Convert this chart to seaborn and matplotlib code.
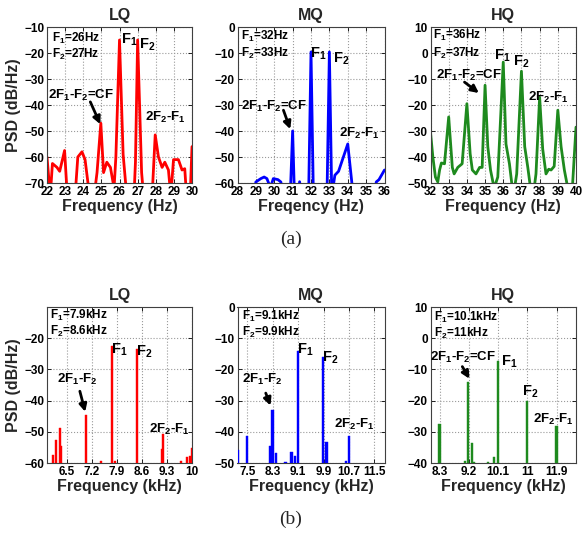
import matplotlib
matplotlib.use("Agg")
import matplotlib.pyplot as plt
import seaborn as sns
import pandas as pd

# ---------------- data ----------------
titles = ["LQ", "MQ", "HQ"]

# (a) continuous PSD curves  (Hz, dB/Hz)
lq_a_freq = [22.0, 22.18, 22.3, 22.55, 22.7, 22.97, 23.12, 23.55, 23.7, 23.93, 24.1, 24.35,
             24.6, 24.76, 24.97, 25.12, 25.3, 25.5, 25.7, 25.8, 26.0, 26.2, 26.4, 26.8,
             26.88, 27.0, 27.22, 27.33, 27.8, 27.97, 28.15, 28.35, 28.5, 28.7, 28.83, 28.98,
             29.25, 29.45, 29.6, 29.7, 29.9, 30.0]
lq_a_psd = [-60, -75, -62.5, -64, -65.5, -57.5, -75, -75, -60, -58, -61, -75,
            -75, -66, -47, -66, -62, -64, -72, -60, -15, -59, -75, -75,
            -62, -15, -66, -75, -75, -51.5, -60, -64, -62, -65, -75, -61,
            -61, -65, -64.5, -75, -75, -56]

mq_a_freq = [28.0, 28.9, 29.0, 29.27, 29.45, 29.6, 29.72, 29.85, 29.95, 30.2, 30.36, 30.5,
             30.87, 31.0, 31.1, 31.3, 31.38, 31.46, 31.87, 32.0, 32.13, 32.87, 33.0, 33.13,
             33.3, 33.5, 34.0, 34.15, 34.3, 35.5, 35.55, 35.7, 36.0]
mq_a_psd = [-65, -65, -59.6, -58.3, -57.7, -58.3, -60.5, -60.5, -58.3, -58.7, -59.6, -65,
            -65, -40, -65, -65, -59.5, -65, -65, -9.6, -65, -65, -9.6, -65,
            -57, -55.5, -45, -55, -65, -65, -59.6, -58.7, -55]

hq_a_freq = [32.0, 32.13, 32.27, 32.4, 32.5, 32.6, 32.77, 33.0, 33.2, 33.3, 33.5, 33.74,
             34.0, 34.18, 34.3, 34.5, 34.7, 34.84, 35.0, 35.15, 35.3, 35.5, 35.7, 36.0,
             36.15, 36.34, 36.5, 36.62, 36.74, 37.0, 37.18, 37.35, 37.5, 37.7, 37.8, 38.0,
             38.17, 38.35, 38.5, 38.63, 38.8, 39.0, 39.18, 39.36, 39.55, 39.8, 40.0]
hq_a_psd = [-30.5, -40, -47.7, -49.6, -45, -42.3, -42.6, -24.6, -44, -46.5, -44, -42.6,
            -19.5, -38.7, -45, -46.5, -44, -44, -12.4, -36, -45, -52, -47.7, -3.5,
            -35, -42.6, -52, -52, -46.5, -7, -36, -44, -52, -52, -46.5, -17,
            -37, -46.5, -44.7, -45, -43.6, -22, -36, -45, -52, -52, -28.5]

# (b) discrete spectra (kHz, dB/Hz)
lq_b_freq = [6.11, 6.20, 6.31, 6.34, 7.03, 7.44, 7.75, 7.84, 8.47, 9.16, 9.19, 9.68, 9.87, 9.94, 10.0]
lq_b_psd = [-57.3, -52.6, -48.9, -54.6, -44.5, -59.3, -22.6, -59.3, -23.5, -55.4, -50.6, -59.3, -58.2, -57.9, -55.2]

mq_b_freq = [7.21, 7.49, 8.21, 8.29, 8.40, 8.70, 8.89, 9.00, 9.10, 9.89, 9.99, 10.60, 10.70]
mq_b_psd = [-45.7, -41.3, -44.5, -33.1, -46.8, -49.8, -46.6, -47.6, -14.2, -16.0, -43.2, -49.5, -41.2]

hq_b_freq = [8.30, 9.08, 9.18, 9.29, 9.37, 9.79, 9.98, 10.10, 10.99, 11.90]
hq_b_psd = [-27.5, -39.3, -13.9, -33.6, -39.7, -39.8, -38.2, -7.2, -20.1, -28.3]

# axis ticks
a_xticks = [list(range(22, 31)), list(range(28, 37)), list(range(32, 41))]
a_yticks = [list(range(-70, -9, 10)), list(range(-60, 1, 10)), list(range(-50, 11, 10))]
b_xticks = [[6.5, 7.2, 7.9, 8.6, 9.3, 10], [7.5, 8.3, 9.1, 9.9, 10.7, 11.5], [8.3, 9.2, 10.1, 11, 11.9]]
b_xticklabels = [["6.5", "7.2", "7.9", "8.6", "9.3", "10"],
                 ["7.5", "8.3", "9.1", "9.9", "10.7", "11.5"],
                 ["8.3", "9.2", "10.1", "11", "11.9"]]
b_yticks = [list(range(-60, -19, 10)), list(range(-50, 1, 10)), list(range(-40, 11, 10))]
a_xlabels = ["Frequency (Hz)", "Freqency (Hz)", "Frequency (Hz)"]
b_xlabel = "Frequency (kHz)"
colors = ["#ff0000", "#0000ff", "#1e8a1e"]

# ---------------- styling ----------------
sns.set_theme(style="whitegrid")
plt.rcParams["font.family"] = ["Liberation Sans", "DejaVu Sans"]
plt.rcParams.update({
    "font.weight": "bold",
    "axes.labelweight": "bold",
    "axes.titleweight": "bold",
    "mathtext.fontset": "custom",
    "mathtext.rm": "Liberation Sans:bold",
    "mathtext.bf": "Liberation Sans:bold",
    "mathtext.it": "Liberation Sans:bold",
    "grid.linestyle": ":",
    "grid.color": "#9a9a9a",
    "grid.linewidth": 0.8,
    "axes.edgecolor": "#303030",
    "axes.linewidth": 0.8,
})

fig = plt.figure(figsize=(5.82, 5.36), dpi=100)
W, H = 582.0, 536.0
lefts = [47, 237.5, 430.5]
widths = [145, 147, 145.5]
top_rows = [(27, 183), (307, 463)]


def make_ax(i, row):
    t, b = top_rows[row]
    return fig.add_axes([lefts[i] / W, 1 - b / H, widths[i] / W, (b - t) / H])


def style(ax, title):
    ax.set_title(title, fontsize=11.5, fontweight="bold", pad=5)
    ax.tick_params(direction="in", length=3, width=0.6, top=True, right=True,
                   bottom=True, left=True, labelsize=8.5, pad=2, colors="black")
    for lab in ax.get_xticklabels() + ax.get_yticklabels():
        lab.set_fontweight("bold")
    for s in ax.spines.values():
        s.set_color("#404040")
    ax.grid(True)


def put(ax, x, y, s, size):
    ax.text(x, y, s, fontsize=size, fontweight="bold", ha="left", va="center", color="black")


def arrow(ax, tail, head):
    ax.annotate("", xy=head, xytext=tail,
                arrowprops=dict(arrowstyle="-|>", lw=2.0, color="black", mutation_scale=11,
                                shrinkA=0, shrinkB=0))


sub = lambda n: r"$_{\mathbf{%s}}$" % n

# ---------------- (a) row ----------------
a_freqs = [lq_a_freq, mq_a_freq, hq_a_freq]
a_psds = [lq_a_psd, mq_a_psd, hq_a_psd]
a_axes = []
for i in range(3):
    ax = make_ax(i, 0)
    df = pd.DataFrame({"f": a_freqs[i], "p": a_psds[i]})
    sns.lineplot(data=df, x="f", y="p", ax=ax, color=colors[i], lw=2.0, sort=True)
    ax.set_xlim(a_xticks[i][0], a_xticks[i][-1])
    ax.set_ylim(a_yticks[i][0], a_yticks[i][-1])
    ax.set_xticks(a_xticks[i])
    ax.set_yticks(a_yticks[i])
    ax.set_xlabel(a_xlabels[i], fontsize=11.5, fontweight="bold", labelpad=1)
    ax.set_ylabel("PSD (dB/Hz)" if i == 0 else "", fontsize=11.5, fontweight="bold", labelpad=2)
    style(ax, titles[i])
    a_axes.append(ax)

ax = a_axes[0]
put(ax, 22.28, -14.5, "F" + sub(1) + "=26Hz", 8.5)
put(ax, 22.28, -20.6, "F" + sub(2) + "=27Hz", 8.5)
put(ax, 26.08, -15.1, "F" + sub(1), 10.5)
put(ax, 27.1, -17.0, "F" + sub(2), 10.5)
put(ax, 22.04, -36.5, "2F" + sub(1) + "-F" + sub(2) + "=CF", 9.5)
arrow(ax, (24.39, -38.8), (24.94, -47.4))
put(ax, 27.42, -44.6, "2F" + sub(2) + "-F" + sub(1), 9.5)

ax = a_axes[1]
put(ax, 28.18, -3.8, "F" + sub(1) + "=32Hz", 8.5)
put(ax, 28.18, -10.3, "F" + sub(2) + "=33Hz", 8.5)
put(ax, 31.95, -10.3, "F" + sub(1), 10.5)
put(ax, 33.18, -12.2, "F" + sub(2), 10.5)
put(ax, 28.18, -30.5, "2F" + sub(1) + "-F" + sub(2) + "=CF", 9.5)
arrow(ax, (30.5, -32.0), (30.87, -39.3))
put(ax, 33.55, -41.0, "2F" + sub(2) + "-F" + sub(1), 9.5)

ax = a_axes[2]
put(ax, 32.13, 6.8, "F" + sub(1) + "=36Hz", 8.5)
put(ax, 32.13, 0.0, "F" + sub(2) + "=37Hz", 8.5)
put(ax, 35.5, -0.9, "F" + sub(1), 10.5)
put(ax, 36.56, -3.5, "F" + sub(2), 10.5)
put(ax, 32.31, -8.6, "2F" + sub(1) + "-F" + sub(2) + "=CF", 9.5)
arrow(ax, (33.87, -11.2), (34.66, -15.4))
put(ax, 37.35, -17.0, "2F" + sub(2) + "-F" + sub(1), 9.5)

# ---------------- (b) row ----------------
b_freqs = [lq_b_freq, mq_b_freq, hq_b_freq]
b_psds = [lq_b_psd, mq_b_psd, hq_b_psd]
b_xlims = [(5.94, 10.0), (7.19, 11.82), (8.02, 12.5)]
b_ylims = [(-60, -10), (-50, 0), (-40, 10)]
bar_w = [0.06, 0.07, 0.07]
b_axes = []
for i in range(3):
    ax = make_ax(i, 1)
    base = b_ylims[i][0]
    heights = [p - base for p in b_psds[i]]
    ax.bar(b_freqs[i], heights, bottom=base, width=bar_w[i], color=colors[i],
           edgecolor=colors[i], linewidth=0.3, zorder=3)
    ax.set_xlim(*b_xlims[i])
    ax.set_ylim(*b_ylims[i])
    ax.set_xticks(b_xticks[i])
    ax.set_xticklabels(b_xticklabels[i])
    ax.set_yticks(b_yticks[i])
    ax.set_xlabel(b_xlabel, fontsize=11.5, fontweight="bold", labelpad=1)
    ax.set_ylabel("PSD (dB/Hz)" if i == 0 else "", fontsize=11.5, fontweight="bold", labelpad=2)
    style(ax, titles[i])
    b_axes.append(ax)

ax = b_axes[0]
put(ax, 6.03, -12.6, "F" + sub(1) + "=7.9kHz", 8.5)
put(ax, 6.03, -17.9, "F" + sub(2) + "=8.6kHz", 8.5)
put(ax, 7.73, -23.6, "F" + sub(1), 10.5)
put(ax, 8.42, -24.2, "F" + sub(2), 10.5)
put(ax, 6.22, -33.3, "2F" + sub(1) + "-F" + sub(2), 9.5)
arrow(ax, (6.86, -37.0), (7.01, -43.6))
put(ax, 8.79, -49.3, "2F" + sub(2) + "-F" + sub(1), 9.5)

ax = b_axes[1]
put(ax, 7.32, -3.0, "F" + sub(1) + "=9.1kHz", 8.5)
put(ax, 7.32, -8.3, "F" + sub(2) + "=9.9kHz", 8.5)
put(ax, 9.05, -13.7, "F" + sub(1), 10.5)
put(ax, 9.84, -16.3, "F" + sub(2), 10.5)
put(ax, 7.32, -23.3, "2F" + sub(1) + "-F" + sub(2), 9.5)
arrow(ax, (8.08, -27.6), (8.23, -31.6))
put(ax, 10.23, -37.7, "2F" + sub(2) + "-F" + sub(1), 9.5)

ax = b_axes[2]
put(ax, 8.12, 6.8, "F" + sub(1) + "=10.1kHz", 8.5)
put(ax, 8.12, 1.5, "F" + sub(2) + "=11kHz", 8.5)
put(ax, 7.99, -6.2, "2F" + sub(1) + "-F" + sub(2) + "=CF", 9.5)
put(ax, 10.18, -7.6, "F" + sub(1), 10.5)
arrow(ax, (9.0, -9.1), (9.22, -13.0))
put(ax, 10.83, -17.1, "F" + sub(2), 10.5)
put(ax, 11.18, -26.2, "2F" + sub(2) + "-F" + sub(1), 9.5)

# panel captions
fig.text(291 / W, 1 - 239 / H, "(a)", fontsize=14, fontweight="normal",
         family=["Liberation Serif", "DejaVu Serif"], ha="center", va="center")
fig.text(291 / W, 1 - 519 / H, "(b)", fontsize=14, fontweight="normal",
         family=["Liberation Serif", "DejaVu Serif"], ha="center", va="center")

fig.savefig("out.png", dpi=100, facecolor="white")
